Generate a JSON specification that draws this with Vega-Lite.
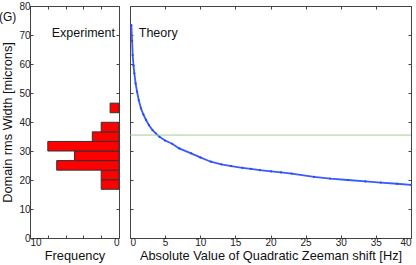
{
  "$schema": "https://vega.github.io/schema/vega-lite/v6.json",
  "padding": {"left": -2, "top": 0, "right": 0, "bottom": 0},
  "background": "white",
  "config": {
    "font": "Liberation Sans",
    "view": {"stroke": "#444", "strokeWidth": 1},
    "axis": {"domain": false, "grid": false, "tickColor": "#444", "tickSize": -3, "labelFontSize": 10, "labelColor": "#222", "titleFontSize": 12.8, "titleFontWeight": "normal", "titleColor": "#111", "labelPadding": 2},
    "concat": {"spacing": 7}
  },
  "datasets": {
    "hist": [
      {"bin_start": 16.8, "bin_end": 20.1, "frequency": 2},
      {"bin_start": 20.1, "bin_end": 23.4, "frequency": 2},
      {"bin_start": 23.4, "bin_end": 26.7, "frequency": 7},
      {"bin_start": 26.7, "bin_end": 30.0, "frequency": 5},
      {"bin_start": 30.0, "bin_end": 33.3, "frequency": 8},
      {"bin_start": 33.3, "bin_end": 36.6, "frequency": 3},
      {"bin_start": 36.6, "bin_end": 39.9, "frequency": 2},
      {"bin_start": 43.2, "bin_end": 46.5, "frequency": 1}
    ],
    "theory": [
      {"hz": 0.19, "width": 73.4}, {"hz": 0.3, "width": 68.0}, {"hz": 0.38, "width": 63.1},
      {"hz": 0.5, "width": 59.5}, {"hz": 0.62, "width": 56.8}, {"hz": 0.8, "width": 53.3},
      {"hz": 1.0, "width": 50.5}, {"hz": 1.25, "width": 47.5}, {"hz": 1.56, "width": 44.7},
      {"hz": 1.9, "width": 42.6}, {"hz": 2.28, "width": 40.7}, {"hz": 2.7, "width": 38.9},
      {"hz": 3.2, "width": 37.2}, {"hz": 3.7, "width": 36.0}, {"hz": 4.2, "width": 34.9},
      {"hz": 5.0, "width": 33.6}, {"hz": 6.0, "width": 32.5}, {"hz": 7.0, "width": 30.9},
      {"hz": 8.7, "width": 29.2}, {"hz": 10.0, "width": 27.8}, {"hz": 11.5, "width": 26.3},
      {"hz": 13.0, "width": 25.4}, {"hz": 14.4, "width": 24.8}, {"hz": 16.0, "width": 24.2},
      {"hz": 17.2, "width": 23.8}, {"hz": 18.5, "width": 23.4}, {"hz": 20.1, "width": 23.0},
      {"hz": 21.5, "width": 22.6}, {"hz": 23.0, "width": 22.2}, {"hz": 26.2, "width": 21.1},
      {"hz": 28.5, "width": 20.5}, {"hz": 31.0, "width": 20.0}, {"hz": 33.5, "width": 19.5},
      {"hz": 35.7, "width": 19.1}, {"hz": 38.0, "width": 18.7}, {"hz": 40.0, "width": 18.3}
    ],
    "labels_left": [{"label": "Experiment", "f": 0.45, "w": 70.7}, {"label": "(G)", "f": 10, "w": 76.2}],
    "labels_right": [{"label": "Theory", "hz": 1.25, "w": 70.7}]
  },
  "hconcat": [
    {
      "width": 89,
      "height": 232,
      "layer": [
        {
          "data": {"name": "hist"},
          "mark": {"type": "bar", "fill": "#ff0000", "stroke": "#333", "strokeWidth": 1},
          "encoding": {
            "y": {"field": "bin_start", "type": "quantitative", "scale": {"domain": [0, 80], "nice": false},
                  "axis": {"orient": "left", "title": "Domain rms Width [microns]", "values": [0, 10, 20, 30, 40, 50, 60, 70, 80], "titlePadding": 4, "labelPadding": 3}},
            "y2": {"field": "bin_end"},
            "x": {"field": "frequency", "type": "quantitative", "scale": {"domain": [0, 10], "reverse": true, "nice": false},
                  "axis": {"orient": "bottom", "title": "Frequency", "values": [0, 2, 4, 6, 8, 10], "labelExpr": "datum.value == 0 || datum.value == 10 ? datum.label : ''", "titlePadding": 2}},
            "x2": {"datum": 0}
          }
        },
        {
          "data": {"name": "hist"},
          "mark": {"type": "point", "opacity": 0},
          "encoding": {
            "y": {"field": "bin_start", "type": "quantitative", "axis": {"orient": "right", "labels": false, "title": null, "values": [0, 10, 20, 30, 40, 50, 60, 70, 80]}},
            "x": {"field": "frequency", "type": "quantitative", "axis": {"orient": "top", "labels": false, "title": null, "values": [0, 2, 4, 6, 8, 10]}}
          }
        },
        {
          "data": {"name": "labels_left"},
          "transform": [{"filter": "datum.label == 'Experiment'"}],
          "mark": {"type": "text", "align": "right", "baseline": "middle", "fontSize": 12.5, "color": "#111"},
          "encoding": {
            "x": {"field": "f", "type": "quantitative", "axis": null},
            "y": {"field": "w", "type": "quantitative", "axis": null},
            "text": {"field": "label"}
          }
        },
        {
          "data": {"name": "labels_left"},
          "transform": [{"filter": "datum.label == '(G)'"}],
          "mark": {"type": "text", "align": "left", "baseline": "middle", "fontSize": 12, "color": "#111", "dx": -31, "clip": false},
          "encoding": {
            "x": {"field": "f", "type": "quantitative", "axis": null},
            "y": {"field": "w", "type": "quantitative", "axis": null},
            "text": {"field": "label"}
          }
        }
      ],
      "resolve": {"axis": {"x": "independent", "y": "independent"}}
    },
    {
      "width": 281,
      "height": 232,
      "layer": [
        {
          "data": {"name": "theory"},
          "mark": {"type": "line", "color": "#3a5cff", "strokeWidth": 1.8, "point": {"filled": true, "size": 5, "color": "#2a48f0"}},
          "encoding": {
            "x": {"field": "hz", "type": "quantitative", "scale": {"domain": [0, 40], "nice": false},
                  "axis": {"orient": "bottom", "title": "Absolute Value of Quadratic Zeeman shift [Hz]", "values": [0, 5, 10, 15, 20, 25, 30, 35, 40], "titlePadding": 2}},
            "y": {"field": "width", "type": "quantitative", "scale": {"domain": [0, 80], "nice": false},
                  "axis": {"orient": "left", "labels": false, "title": null, "values": [0, 10, 20, 30, 40, 50, 60, 70, 80]}}
          }
        },
        {
          "data": {"name": "theory"},
          "mark": {"type": "point", "opacity": 0},
          "encoding": {
            "x": {"field": "hz", "type": "quantitative", "axis": {"orient": "top", "labels": false, "title": null, "values": [0, 5, 10, 15, 20, 25, 30, 35, 40]}},
            "y": {"field": "width", "type": "quantitative", "axis": {"orient": "right", "labels": false, "title": null, "values": [0, 10, 20, 30, 40, 50, 60, 70, 80]}}
          }
        },
        {
          "data": {"values": [{"w": 35.5}]},
          "mark": {"type": "rule", "color": "#9ccf8c", "strokeWidth": 1},
          "encoding": {"y": {"field": "w", "type": "quantitative", "axis": null}}
        },
        {
          "data": {"name": "labels_right"},
          "mark": {"type": "text", "align": "left", "baseline": "middle", "fontSize": 12.5, "color": "#111"},
          "encoding": {
            "x": {"field": "hz", "type": "quantitative", "axis": null},
            "y": {"field": "w", "type": "quantitative", "axis": null},
            "text": {"field": "label"}
          }
        }
      ],
      "resolve": {"axis": {"x": "independent", "y": "independent"}}
    }
  ]
}
